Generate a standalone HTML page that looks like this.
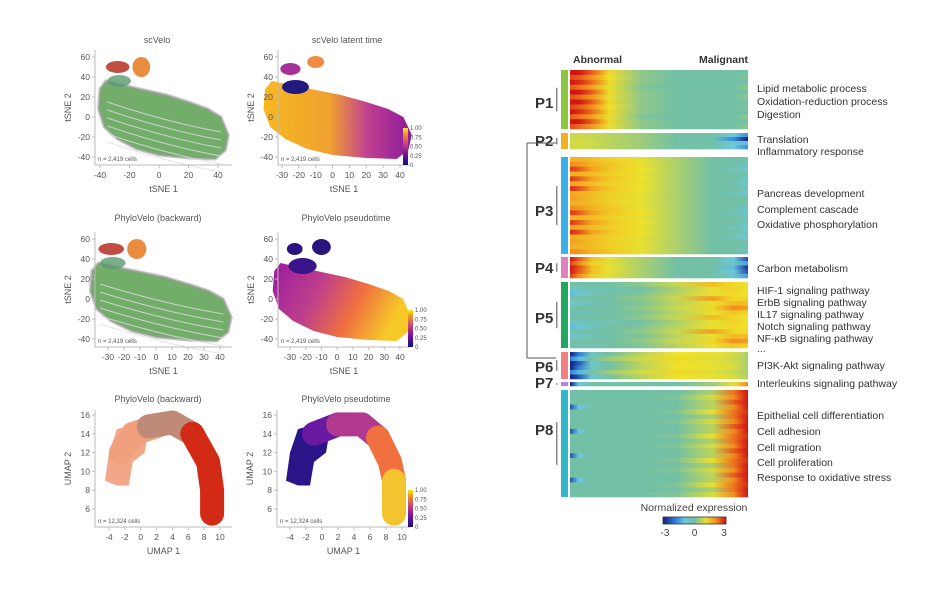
<!DOCTYPE html>
<html><head><meta charset="utf-8"><style>
body{margin:0;background:#fff;}
svg text{font-family:"Liberation Sans",sans-serif;}
</style></head><body>
<svg id="fig" width="952" height="586" viewBox="0 0 952 586" xmlns="http://www.w3.org/2000/svg">
<defs>
<linearGradient id="g2" x1="0" x2="1" y1="0" y2="0"><stop offset="0" stop-color="#f6b820"/><stop offset="0.45" stop-color="#f0a030"/><stop offset="0.7" stop-color="#c04090"/><stop offset="1" stop-color="#8a1a9a"/></linearGradient>
<linearGradient id="g4" x1="0" x2="1" y1="0" y2="0.3"><stop offset="0" stop-color="#9a1aa0"/><stop offset="0.4" stop-color="#c0408a"/><stop offset="0.7" stop-color="#f07040"/><stop offset="1" stop-color="#f6c828"/></linearGradient>
<linearGradient id="cbv" x1="0" x2="0" y1="1" y2="0"><stop offset="0" stop-color="#10107a"/><stop offset="0.3" stop-color="#7a10a0"/><stop offset="0.6" stop-color="#d04a70"/><stop offset="0.85" stop-color="#f49a20"/><stop offset="1" stop-color="#f0f020"/></linearGradient>
<linearGradient id="cbh" x1="0" x2="1"><stop offset="0" stop-color="#141e80"/><stop offset="0.2" stop-color="#2f80d8"/><stop offset="0.35" stop-color="#6cc8e0"/><stop offset="0.5" stop-color="#72c0a6"/><stop offset="0.68" stop-color="#e8e030"/><stop offset="0.85" stop-color="#f08a20"/><stop offset="1" stop-color="#c81010"/></linearGradient>
</defs>
<g id="left"></g>
<g id="heat"></g>
</svg>
<script>
// ---------- heatmap data ----------
const heatPos = [0,0.05,0.12,0.22,0.4,0.6,0.8,0.92,1.0];
const blockNames = ["P1","P2","P3","P4","P5","P6","P7","P8"];
const blockTop = [70,133,157,257,282,352,382,390];
const blockBottom = [129,149,254,278,348,379,386,497];
const blockColors = ["#8cc63f","#f0b020","#3eb0e8","#e080c0","#20a860","#f08080","#c080e0","#30b8c8"];
const p1Rows = [[3,3,2.4,1.2,0.2,0,0,0,0],[2.6,2.4,2,1.1,0.2,0,0,0,0.1],[3,2.8,2.3,1.2,0.2,0,0,0,0],[2.4,2.2,1.8,1,0.1,0,0,0,0.2],[3,3,2.4,1.2,0.2,0,0,0,0],[2.5,2.3,1.9,1,0.2,0,0,0,0.2]];
const p2Rows = [[0.6,0.7,0.6,0.5,0.3,0,0,-1,-1.8],[0.6,0.7,0.6,0.5,0.3,0,-0.2,-1.8,-3],[0.7,0.8,0.7,0.5,0.3,0,0,-0.8,-1.2]];
const p3Rows = [[1.6,1.6,1.5,1.3,1,0.4,0,0,-0.3],[2,1.9,1.6,1.4,1,0.4,0,0,-0.4],[2.7,2.4,1.8,1.4,1.1,0.4,0,-0.3,-0.8],[1.6,1.6,1.5,1.3,1,0.4,0,0,-0.2],[2.7,2.4,1.8,1.4,1.1,0.4,0,0,-0.6],[1.8,1.7,1.5,1.3,1,0.4,0,-0.2,-0.9],[2.8,2.5,1.8,1.4,1.1,0.4,0,0,-0.4],[1.7,1.6,1.5,1.3,1,0.4,0,-0.3,-0.9],[1.8,1.7,1.5,1.3,1,0.4,0,0,0]];
const p4Rows = [[3,2.4,1.5,1,0.4,0,0,-1,-2.5],[2.6,2,1.3,0.9,0.4,0,0,-0.6,-1.6],[3,2.5,1.5,1,0.4,0,0,-1.2,-2.8]];
const p5Rows = [[0,0,0,0,0.2,0.6,1.5,1.2,1],[-0.4,-0.5,-0.3,-0.2,0,0.4,1,1.3,1.1],[-1.2,-0.8,-0.4,0,0.1,0.5,1,1.2,1.1],[0,0,0,0,0.2,0.6,1.8,1.2,1.2],[-0.8,-0.5,-0.3,0,0.1,0.5,1,1.5,1.5],[0,0,0,0,0.2,0.6,1.2,2,1.8],[0,-0.3,-0.2,0,0.1,0.5,1,1.4,1.2]];
const p6Rows = [[-3,-2,-0.5,0,0.5,1.1,1,0.8,0.4],[-2,-1.2,-0.2,0.3,0.7,1.2,0.9,0.6,0.4],[-3,-2.4,-0.6,0,0.5,1.1,1,0.8,0.4]];
const p7Rows = [[-3,-1,0,0,0,0,0.3,1,2]];
const p8Rows = [[0,0,0,0,0,0,0.4,2.2,3],[0,0,0,0,0,0.1,0.8,2,3],[0,0,0,0,0,0,0.5,2.4,3],[-2.5,-1,0,0,0,0,0.5,2,3],[0,0,0,0,0,0.1,1,2.2,2.8]];
const blockRows = [p1Rows,p2Rows,p3Rows,p4Rows,p5Rows,p6Rows,p7Rows,p8Rows];
const blockRowCount = [12,4,20,5,14,6,1,22];
const pathwayLabels = ["Lipid metabolic process","Oxidation-reduction process","Digestion","Translation","Inflammatory response","Pancreas development","Complement cascade","Oxidative phosphorylation","Carbon metabolism","HIF-1 signaling pathway","ErbB signaling pathway","IL17 signaling pathway","Notch signaling pathway","NF-κB signaling pathway","...","PI3K-Akt signaling pathway","Interleukins signaling pathway","Epithelial cell differentiation","Cell adhesion","Cell migration","Cell proliferation","Response to oxidative stress"];
const pathwayY = [88,101,114,139,151,193,209,224,268,290,302,314,326,338,348,365,383,415,431,447,462,477];
const blockLabelY = [103,141,211,268,318,367,383,430];
const cbTicks = [-3,0,3];

const NS="http://www.w3.org/2000/svg";
function el(parent,tag,attrs,text){const e=document.createElementNS(NS,tag);for(const k in attrs)e.setAttribute(k,attrs[k]);if(text!==undefined)e.textContent=text;parent.appendChild(e);return e;}
const stops=[[-3,[20,30,128]],[-2,[47,128,216]],[-1,[108,200,224]],[0,[114,192,166]],[0.6,[200,216,80]],[1.1,[240,226,40]],[2,[242,140,30]],[3,[210,20,20]]];
function col(v){v=Math.max(-3,Math.min(3,v));for(let i=0;i<stops.length-1;i++){const a=stops[i],b=stops[i+1];if(v<=b[0]){const t=(v-a[0])/(b[0]-a[0]);const c=a[1].map((x,j)=>Math.round(x+(b[1][j]-x)*t));return `rgb(${c[0]},${c[1]},${c[2]})`;}}return "rgb(210,20,20)";}

const svg=document.getElementById('fig');
const defs=svg.querySelector('defs');
const heat=document.getElementById('heat');
const hx0=570,hx1=748;
let gid=0;
blockNames.forEach((name,b)=>{
  const g=el(heat,'g',{});
  
  
  const n=blockRowCount[b],top=blockTop[b],h=(blockBottom[b]-top)/n;
  for(let r=0;r<n;r++){
    const prof=blockRows[b][r%blockRows[b].length];
    const id='hg'+(gid++);
    const lg=el(defs,'linearGradient',{id:id,x1:0,x2:1,y1:0,y2:0});
    prof.forEach((v,i)=>el(lg,'stop',{offset:heatPos[i],'stop-color':col(v)}));
    const rc=el(g,'rect',{x:hx0,y:top+r*h,width:hx1-hx0,height:h+0.3,fill:`url(#${id})`});
    
    
  }
  const s=el(heat,'rect',{x:561,y:top,width:7,height:blockBottom[b]-top,fill:blockColors[b]});
  
  
  el(heat,'rect',{x:556,y:top+(blockBottom[b]-top)*0.3,width:1.5,height:Math.max(1,(blockBottom[b]-top)*0.4),fill:'#888'});
  const t=el(heat,'text',{x:535,y:blockLabelY[b]+5,'font-size':15,'font-weight':'bold',fill:'#333'},name);
  
  
});
el(heat,'path',{d:'M527,143 V358 M527,143 H556 M527,358 H556',stroke:'#555','stroke-width':1,fill:'none'});
pathwayLabels.forEach((lab,i)=>{
  const t=el(heat,'text',{x:757,y:pathwayY[i]+4,'font-size':10.5,fill:'#333'},lab);
  
  
});
let t=el(heat,'text',{x:573,y:63,'font-size':10.5,'font-weight':'bold',fill:'#333'},'Abnormal');

t=el(heat,'text',{x:748,y:63,'font-size':10.5,'font-weight':'bold',fill:'#333','text-anchor':'end'},'Malignant');

t=el(heat,'text',{x:694,y:511,'font-size':10.5,fill:'#444','text-anchor':'middle'},'Normalized expression');

const cb=el(heat,'rect',{x:663,y:517,width:63,height:7,fill:'url(#cbh)',stroke:'#333','stroke-width':0.8});

cbTicks.forEach(v=>{const tt=el(heat,'text',{x:665+(v+3)/6*59,y:536,'font-size':10,fill:'#444','text-anchor':'middle'},String(v));
});

// ---------- left panels ----------
const tsneXTicks1Shown=[-40,-20,0,20,40];
const tsneXTicks2=[-30,-20,-10,0,10,20,30,40];
const tsneYTicks=[60,40,20,0,-20,-40];
const umapXTicks=[-4,-2,0,2,4,6,8,10];
const umapYTicks=[16,14,12,10,8,6];
const cbLabels=["1.00","0.75","0.50","0.25","0"];
const left=document.getElementById('left');
const panels=[
 {name:'scvelo',title:'scVelo',sx:v=>159+v*1.475,sy:v=>117-v,ax:95,ay:165,ar:232,at:50,xt:tsneXTicks1Shown,yt:tsneYTicks,xl:'tSNE 1',yl:'tSNE 2',tx:157,ty:40,n:'n = 2,419 cells',cbar:false},
 {name:'scvelo-latent-time',title:'scVelo latent time',sx:v=>282+(v+30)*1.686,sy:v=>117-v,ax:278,ay:165,ar:410,at:50,xt:tsneXTicks2,yt:tsneYTicks,xl:'tSNE 1',yl:'tSNE 2',tx:347,ty:40,n:'n = 2,419 cells',cbar:[403,128,165]},
 {name:'phylovelo-backward-tsne',title:'PhyloVelo (backward)',sx:v=>108+(v+30)*1.6,sy:v=>299-v,ax:95,ay:347,ar:232,at:232,xt:tsneXTicks2,yt:tsneYTicks,xl:'tSNE 1',yl:'tSNE 2',tx:158,ty:218,n:'n = 2,419 cells',cbar:false},
 {name:'phylovelo-pseudotime-tsne',title:'PhyloVelo pseudotime',sx:v=>290+(v+30)*1.571,sy:v=>299-v,ax:278,ay:347,ar:410,at:232,xt:tsneXTicks2,yt:tsneYTicks,xl:'tSNE 1',yl:'tSNE 2',tx:346,ty:218,n:'n = 2,419 cells',cbar:[408,310,347]},
 {name:'phylovelo-backward-umap',title:'PhyloVelo (backward)',sx:v=>109+(v+4)*7.93,sy:v=>415+(16-v)*9.4,ax:95,ay:527,ar:232,at:410,xt:umapXTicks,yt:umapYTicks,xl:'UMAP 1',yl:'UMAP 2',tx:158,ty:399,n:'n = 12,324 cells',cbar:false},
 {name:'phylovelo-pseudotime-umap',title:'PhyloVelo pseudotime',sx:v=>290+(v+4)*8,sy:v=>415+(16-v)*9.4,ax:277,ay:527,ar:410,at:410,xt:umapXTicks,yt:umapYTicks,xl:'UMAP 1',yl:'UMAP 2',tx:346,ty:399,n:'n = 12,324 cells',cbar:[408,490,527]}
];
const body=[[-40,28],[-36,36],[-25,32],[-10,27],[5,22],[20,15],[33,8],[42,0],[47,-18],[45,-33],[38,-42],[20,-41],[0,-38],[-15,-32],[-28,-22],[-37,-10],[-41,8]];
function poly(p,pts){return pts.map((q,i)=>(i?'L':'M')+p.sx(q[0]).toFixed(1)+','+p.sy(q[1]).toFixed(1)).join(' ')+'Z';}
function ell(g,p,cx,cy,rx,ry,fill,op){el(g,'ellipse',{cx:p.sx(cx),cy:p.sy(cy),rx:Math.abs(p.sx(cx+rx)-p.sx(cx)),ry:Math.abs(p.sy(cy+ry)-p.sy(cy)),fill:fill,opacity:op||1});}
function arch(g,p,segs,w){segs.forEach(s=>{el(g,'path',{d:s[0].map((q,i)=>(i?'L':'M')+p.sx(q[0]).toFixed(1)+','+p.sy(q[1]).toFixed(1)).join(' '),stroke:s[1],'stroke-width':w,fill:'none','stroke-linejoin':'round','stroke-linecap':'round'});});}
const umapLeft=[[-4.5,9],[-4,12],[-3,14.5],[-1,15],[1,14.5],[0.5,12],[-1,11],[-1.5,8.5],[-3,8.5]];
panels.forEach((p,i)=>{
  const g=el(left,'g',{});
  
  
  const c=el(g,'g',{});
  if(i===0||i===2){
    el(c,'path',{d:poly(p,body),fill:'#6aaa62',opacity:0.95});
    el(c,'path',{d:poly(p,body),fill:'none',stroke:'#999','stroke-width':3,opacity:0.6});
    for(let k=-30;k<=10;k+=8)el(c,'path',{d:`M${p.sx(-35)},${p.sy(k+5)} Q${p.sx(5)},${p.sy(k-15)} ${p.sx(42)},${p.sy(k-25)}`,stroke:'#ddd','stroke-width':1,fill:'none',opacity:0.8});
    ell(c,p,-28,50,8,6,'#b83a30',0.9);ell(c,p,-12,50,6,10,'#e8802a',0.9);ell(c,p,-27,36,8,6,'#5a9a70',0.8);
  } else if(i===1||i===3){
    el(c,'path',{d:poly(p,body),fill:i===1?'url(#g2)':'url(#g4)'});
    if(i===1){ell(c,p,-25,48,6,6,'#a8309a');ell(c,p,-10,55,5,6,'#f08a40');ell(c,p,-22,30,8,7,'#201a80');}
    else{ell(c,p,-27,50,5,6,'#2a1480');ell(c,p,-10,52,6,8,'#2a1480');ell(c,p,-22,33,9,8,'#3a148a');}
  } else if(i===4){
    el(c,'path',{d:poly(p,umapLeft),fill:'#f2a888'});
    arch(c,p,[[[[-2.5,12],[-1,14],[2,14.8]],'#f0a07c'],[[[1,14.8],[4,15.2],[6.5,14]],'#c08a78'],[[[6.5,14],[8.5,11],[9,8],[9,5.5]],'#d22a14']],24);
  } else {
    el(c,'path',{d:poly(p,umapLeft),fill:'#2a1488'});
    arch(c,p,[[[[-1,14],[2,15]],'#6a1aa0'],[[[2,15],[5,15],[7,13.6]],'#b03a90'],[[[7,13.6],[8.5,11],[9,9]],'#f07040'],[[[9,9],[9,5.5]],'#f4c430']],24);
  }
  el(g,'path',{d:`M${p.ax},${p.at} V${p.ay} H${p.ar}`,stroke:'#bbb','stroke-width':1,fill:'none'});
  p.xt.forEach(v=>{const x=p.sx(v);el(g,'line',{x1:x,x2:x,y1:p.ay,y2:p.ay+3,stroke:'#bbb'});
    const tt=el(g,'text',{x:x,y:p.ay+13,'font-size':8.5,fill:'#555','text-anchor':'middle'},String(v));
    });
  p.yt.forEach(v=>{const y=p.sy(v);el(g,'line',{x1:p.ax-3,x2:p.ax,y1:y,y2:y,stroke:'#bbb'});
    const tt=el(g,'text',{x:p.ax-5,y:y+3,'font-size':8.5,fill:'#555','text-anchor':'end'},String(v));
    });
  let tt=el(g,'text',{x:(p.ax+p.ar)/2,y:p.ay+27,'font-size':9,fill:'#555','text-anchor':'middle'},p.xl);
  
  const yx=p.ax-24,yy=(p.at+p.ay)/2;
  tt=el(g,'text',{x:yx,y:yy,'font-size':9,fill:'#555','text-anchor':'middle',transform:`rotate(-90 ${yx} ${yy})`},p.yl);
  
  tt=el(g,'text',{x:p.tx,y:p.ty+3,'font-size':9,fill:'#555','text-anchor':'middle'},p.title);
  
  tt=el(g,'text',{x:p.ax+3,y:p.ay-4,'font-size':6,fill:'#555'},p.n);
  
  if(p.cbar){const [x,y0,y1]=p.cbar;
    const r=el(g,'rect',{x:x,y:y0,width:5,height:y1-y0,fill:'url(#cbv)'});
    
    cbLabels.forEach((l,k)=>{const q=el(g,'text',{x:x+7,y:y0+k*(y1-y0)/4+2,'font-size':6,fill:'#555'},l);
      });}
});
</script>
</body></html>
